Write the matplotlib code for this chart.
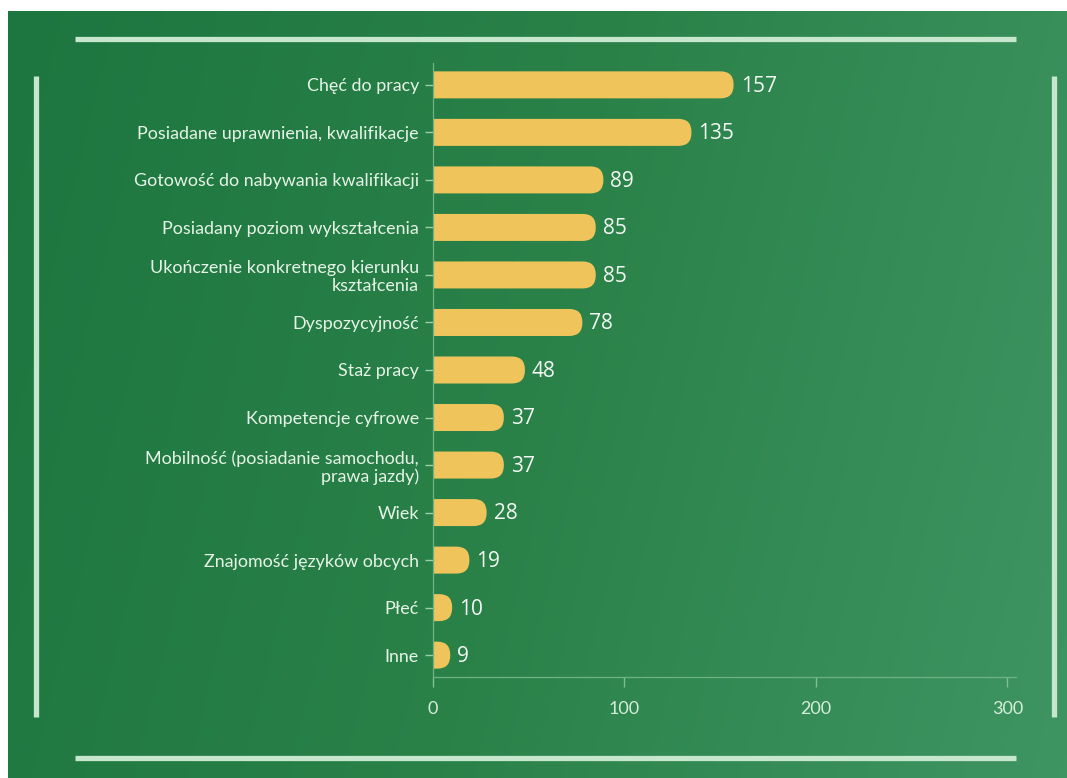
import numpy as np
import matplotlib.pyplot as plt
from matplotlib.patches import FancyBboxPatch
from matplotlib.lines import Line2D
from matplotlib.colors import LinearSegmentedColormap

# kryteria doboru pracowników
categories = [
    "Chęć do pracy",
    "Posiadane uprawnienia, kwalifikacje",
    "Gotowość do nabywania kwalifikacji",
    "Posiadany poziom wykształcenia",
    "Ukończenie konkretnego kierunku\nkształcenia",
    "Dyspozycyjność",
    "Staż pracy",
    "Kompetencje cyfrowe",
    "Mobilność (posiadanie samochodu,\nprawa jazdy)",
    "Wiek",
    "Znajomość języków obcych",
    "Płeć",
    "Inne",
]
values = [157, 135, 89, 85, 85, 78, 48, 37, 37, 28, 19, 10, 9]
xticks = [0, 100, 200, 300]

W, H = 1067, 778
fig = plt.figure(figsize=(W / 100, H / 100), dpi=100, facecolor="white")

# green gradient panel
bg = fig.add_axes([8 / W, 0, 1 - 8 / W, 1 - 11 / H])
bg.set_axis_off()
cmap = LinearSegmentedColormap.from_list("g", ["#1d763f", "#2a8249", "#3f9562"])
gx = np.linspace(0, 1, 300)
gy = np.linspace(0, 1, 200)
grad = 0.85 * gx[None, :] + 0.15 * gy[:, None]
bg.imshow(grad, cmap=cmap, aspect="auto", extent=[0, 1, 0, 1], origin="upper")
bg.set_xlim(0, 1)
bg.set_ylim(0, 1)

# frame lines
line_col = "#c6e6ce"
def px_line(x0, y0, x1, y1):
    fig.add_artist(Line2D([x0 / W, x1 / W], [1 - y0 / H, 1 - y1 / H],
                          transform=fig.transFigure, color=line_col,
                          linewidth=3.8, solid_capstyle="butt"))

px_line(75, 39, 1016, 39)
px_line(75, 758, 1016, 758)
px_line(36, 76, 36, 717)
px_line(1054, 76, 1054, 717)

# chart area
left, right, top, bottom = 433, 1016, 63, 677
ax = fig.add_axes([left / W, 1 - bottom / H, (right - left) / W, (bottom - top) / H])
ax.set_facecolor("none")
xmax = 304.5
n = len(categories)
ax.set_xlim(0, xmax)
ax.set_ylim(n - 1 + 0.46, -0.46)

sx = (right - left) / xmax
sy = (bottom - top) / (n - 1 + 0.92)
bar_h = 27 / sy
radius = 13 / sx
bar_col = "#efc55b"

y = np.arange(n)
for yi, v in zip(y, values):
    patch = FancyBboxPatch((-radius, yi - bar_h / 2), v + radius, bar_h,
                           boxstyle=f"round,pad=0,rounding_size={radius}",
                           mutation_aspect=sx / sy, facecolor=bar_col,
                           edgecolor="none", clip_on=True)
    ax.add_patch(patch)
    ax.text(v + 7 / sx, yi + 0.03, str(v), va="center", ha="left", fontsize=15,
            color="#f4f8f4", family=["Open Sans", "DejaVu Sans"])

txt_col = "#e6f4e8"
ax.set_yticks(y)
ax.set_yticklabels(categories, fontsize=12.9, color=txt_col,
                   family=["Lato", "DejaVu Sans"], linespacing=1.15)
ax.set_xticks(xticks)
ax.set_xticklabels([str(t) for t in xticks], fontsize=13, color="#d4eeda",
                   family=["Lato", "DejaVu Sans"])
ax.tick_params(axis="y", length=6, width=1, color="#9ccfa9", pad=4)
ax.tick_params(axis="x", length=7, width=1, color="#7fbf92", pad=10)

for s in ["top", "right"]:
    ax.spines[s].set_visible(False)
ax.spines["left"].set_color("#6fb383")
ax.spines["bottom"].set_color("#6fb383")
ax.spines["left"].set_linewidth(0.9)
ax.spines["bottom"].set_linewidth(0.9)

fig.savefig("out.png", dpi=100, facecolor="white")
